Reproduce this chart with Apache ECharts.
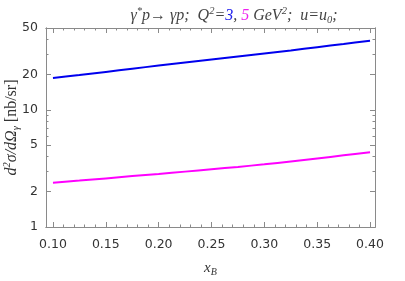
<!DOCTYPE html>
<html><head><meta charset="utf-8">
<script src="https://cdn.jsdelivr.net/npm/echarts@6/dist/echarts.min.js"></script>
<style>html,body{margin:0;padding:0;background:#fff}#c{width:405px;height:281px}</style>
</head><body><div id="c"></div>
<script>
var xB = [0.10, 0.125, 0.15, 0.175, 0.20, 0.225, 0.25, 0.275, 0.30, 0.325, 0.35, 0.375, 0.40];
var q3 = [18.7, 19.85, 21.1, 22.45, 23.9, 25.35, 26.9, 28.55, 30.3, 32.2, 34.3, 36.5, 38.9];
var q5 = [2.39, 2.49, 2.60, 2.72, 2.84, 2.97, 3.11, 3.26, 3.43, 3.63, 3.85, 4.09, 4.35];
var xMajor = [0.10, 0.15, 0.20, 0.25, 0.30, 0.35, 0.40];
var xMinor = [0.10,0.11,0.12,0.13,0.14,0.15,0.16,0.17,0.18,0.19,0.20,0.21,0.22,0.23,0.24,0.25,0.26,0.27,0.28,0.29,0.30,0.31,0.32,0.33,0.34,0.35,0.36,0.37,0.38,0.39,0.40];
var yMajor = [1, 2, 5, 10, 20, 50];
var yMinor = [1,2,3,4,5,6,7,8,9,10,20,30,40,50];

var chart = echarts.init(document.getElementById('c'), null, {renderer:'canvas'});
var frame = '#8a8a8a';
var lblColor = '#333';
var sans = '"DejaVu Sans", sans-serif';
var serif = '"Liberation Serif", "DejaVu Serif", serif';
function xAx(pos, major, show) {
  return {
    type:'value', min:0.0934, max:0.4047, position:pos,
    axisLine:{show:true, lineStyle:{color:frame, width:1}},
    axisTick:{show:true, inside:true, length: major?5:2.5, customValues: major?xMajor:xMinor, lineStyle:{color:frame}},
    axisLabel:{show:show, customValues:xMajor, formatter:function(v){return v.toFixed(2);}, color:lblColor, fontFamily:sans, fontSize:12.5, margin:11},
    splitLine:{show:false}
  };
}
function yAx(pos, major, show) {
  return {
    type:'log', min:1, max:50, logBase:10, position:pos,
    axisLine:{show:true, lineStyle:{color:frame, width:1}},
    axisTick:{show:true, inside:true, length: major?5:2.5, customValues: major?yMajor:yMinor, lineStyle:{color:frame}},
    axisLabel:{show:show, customValues:yMajor, color:lblColor, fontFamily:sans, fontSize:12.5, margin:8},
    splitLine:{show:false}
  };
}
var xs = [xAx('bottom',true,true), xAx('bottom',false,false), xAx('top',true,false), xAx('top',false,false)];
var ys = [yAx('left',true,true), yAx('left',false,false), yAx('right',true,false), yAx('right',false,false)];
function tok(sz, extra) {
  var o = {fontFamily:serif, fontStyle:'italic', fontWeight:'normal', fontSize:sz, color:'#333'};
  for (var k in extra) o[k] = extra[k];
  return o;
}
xs[0].name = '{i|x}{s|B}';
xs[0].nameLocation = 'middle';
xs[0].nameGap = 32;
xs[0].nameMoveOverlap = false;
xs[0].nameTextStyle = {fontSize:15, fontFamily:serif, rich:{i:tok(15,{}), s:tok(10,{padding:[8,0,0,0]})}};
ys[0].name = '{i|d}{p|2}{i|σ/dΩ}{s|γ}{n| [nb/sr]}';
ys[0].nameLocation = 'middle';
ys[0].nameRotate = 90;
ys[0].nameGap = 24;
ys[0].nameMoveOverlap = false;
ys[0].nameTextStyle = {fontSize:16, fontFamily:serif, rich:{
  i:tok(16,{}),
  n:tok(16,{fontStyle:'normal'}),
  p:tok(10.5,{padding:[0,0,9,0]}),
  s:tok(10.5,{padding:[8,0,0,0]})
}};

function pairs(ys_) { return xB.map(function(x,i){return [x, ys_[i]];}); }

chart.setOption({
  animation:false,
  backgroundColor:'#fff',
  title:{
    text:'{t|γ}{p|*}{t|p→ γp;  Q}{p|2}{t|=}{b|3}{t|, }{m|5}{t| GeV}{p|2}{t|;  u=u}{s|0}{t|;}',
    left:229, top:1, textAlign:'center',
    textStyle:{fontWeight:'normal', fontSize:16, rich:{
      t:tok(16,{color:'#444'}),
      b:tok(16,{color:'#2222ee'}),
      m:tok(16,{color:'#ee22ee'}),
      p:tok(10.5,{color:'#444', padding:[0,0,9,0]}),
      s:tok(10.5,{color:'#444', padding:[8,0,0,0]})
    }}
  },
  grid:{left:46, right:30, top:28, bottom:54, containLabel:false, outerBoundsMode:'none'},
  xAxis: xs,
  yAxis: ys,
  series:[
    {type:'line', data:pairs(q3), smooth:0.3, showSymbol:false, lineStyle:{color:'#0000ee', width:2}, xAxisIndex:0, yAxisIndex:0},
    {type:'line', data:pairs(q5), smooth:0.3, showSymbol:false, lineStyle:{color:'#ff00ff', width:2}, xAxisIndex:0, yAxisIndex:0}
  ]
});
</script></body></html>
